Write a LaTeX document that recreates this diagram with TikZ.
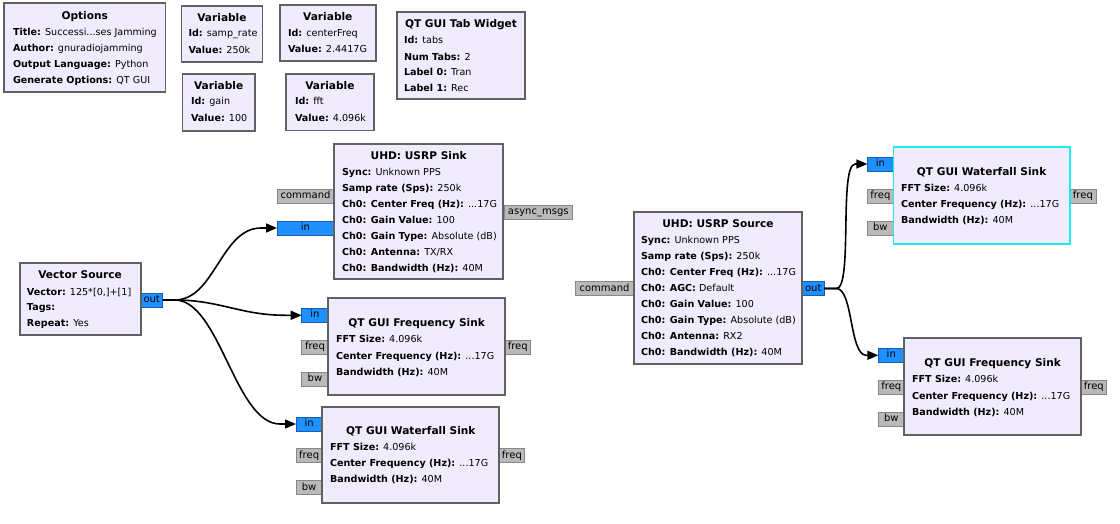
\documentclass[tikz,border=0pt]{standalone}
\usepackage{fontspec}
\setmainfont{DejaVu Sans}
\usetikzlibrary{arrows.meta,calc}
\definecolor{blockfill}{RGB}{240,236,253}
\definecolor{blockborder}{RGB}{97,97,97}
\definecolor{selcyan}{RGB}{30,235,240}
\definecolor{bportfill}{RGB}{30,144,255}
\definecolor{bportdraw}{RGB}{20,95,180}
\definecolor{gportfill}{RGB}{185,185,185}
\definecolor{gportdraw}{RGB}{135,135,135}
\tikzset{
  blockbox/.style={draw=blockborder, line width=1.8pt, fill=blockfill, inner sep=0pt, outer sep=0pt},
  selbox/.style={blockbox, draw=selcyan},
  txt/.style={inner sep=0pt, outer sep=0pt, font=\fontsize{9.6}{12}\selectfont, anchor=base west},
  ttl/.style={inner sep=0pt, outer sep=0pt, font=\fontsize{10.6}{12}\selectfont\bfseries, anchor=base},
  port/.style={line width=0.9pt, inner sep=0pt, outer sep=0pt, minimum height=14pt,
    font=\fontsize{10}{12}\selectfont, text height=7.3pt, text depth=2.2pt},
  sport/.style={port, draw=bportdraw, fill=bportfill},
  mport/.style={port, draw=gportdraw, fill=gportfill},
  conn/.style={line width=1.6pt, -{Triangle[length=11pt,width=9pt]}},
}
\newcommand\kvl[5]{\node[txt] (#1) at (#2,#3) {\textbf{#4:} #5};}
\newcommand\btl[4]{\node[ttl] (#1) at (#2,#3) {#4};}
\begin{document}
\begin{tikzpicture}[x=1pt,y=-1pt]
\useasboundingbox[fill=white] (0,0) rectangle (1120,524);

% ---------- ports ----------
\node[mport, minimum width=57pt]   (us-cmd)   at (305.5,196.3) {command};
\node[sport, minimum width=57pt]   (us-in)    at (305.5,228) {in};
\node[mport, minimum width=68.5pt] (us-async) at (538.25,212) {async\_msgs};
\node[sport, minimum width=22.2pt] (vs-out)   at (151.7,300) {out};

\node[sport, minimum width=26.6pt] (fl-in)   at (315,315.3) {in};
\node[mport, minimum width=26.6pt] (fl-freq) at (315,347) {freq};
\node[mport, minimum width=26.6pt] (fl-bw)   at (315,379) {bw};
\node[mport, minimum width=25.5pt] (fl-fo)   at (517.75,347) {freq};

\node[sport, minimum width=26.3pt] (wl-in)   at (309.15,424) {in};
\node[mport, minimum width=26.3pt] (wl-freq) at (309.15,455.7) {freq};
\node[mport, minimum width=26.3pt] (wl-bw)   at (309.15,487.5) {bw};
\node[mport, minimum width=25.2pt] (wl-fo)   at (511.9,455.7) {freq};

\node[mport, minimum width=58.5pt] (ur-cmd) at (604.55,288.5) {command};
\node[sport, minimum width=22.1pt] (ur-out) at (813.25,288.5) {out};

\node[sport, minimum width=26pt]   (wr-in)   at (880.4,164) {in};
\node[mport, minimum width=26pt]   (wr-freq) at (880.4,196.3) {freq};
\node[mport, minimum width=26pt]   (wr-bw)   at (880.4,228) {bw};
\node[mport, minimum width=26.2pt] (wr-fo)   at (1082.9,196.3) {freq};

\node[sport, minimum width=26pt]   (fr-in)   at (891.3,355.3) {in};
\node[mport, minimum width=26pt]   (fr-freq) at (891.3,387) {freq};
\node[mport, minimum width=26pt]   (fr-bw)   at (891.3,419) {bw};
\node[mport, minimum width=25.7pt] (fr-fo)   at (1093.85,387) {freq};

% ---------- blocks ----------
\node[blockbox, minimum width=161.5pt, minimum height=89pt] (opt) at (84.75,47.8) {};
\btl{opt-t}{84.75}{19.5}{Options}
\kvl{opt-1}{13}{36}{Title}{Successi...ses Jamming}
\kvl{opt-2}{13}{52}{Author}{gnuradiojamming}
\kvl{opt-3}{13}{68}{Output Language}{Python}
\kvl{opt-4}{13}{84}{Generate Options}{QT GUI}

\node[blockbox, minimum width=80.9pt, minimum height=56.6pt] (vsr) at (221.95,34) {};
\btl{vsr-t}{221.95}{21.2}{Variable}
\kvl{vsr-1}{188.5}{37}{Id}{samp\_rate}
\kvl{vsr-2}{188.5}{53.5}{Value}{250k}

\node[blockbox, minimum width=96.4pt, minimum height=56.3pt] (vcf) at (327.8,32.85) {};
\btl{vcf-t}{327.8}{20.2}{Variable}
\kvl{vcf-1}{288}{36.8}{Id}{centerFreq}
\kvl{vcf-2}{288}{52.5}{Value}{2.4417G}

\node[blockbox, minimum width=72.3pt, minimum height=56.7pt] (vg) at (218.65,102.35) {};
\btl{vg-t}{218.65}{89.5}{Variable}
\kvl{vg-1}{191}{105}{Id}{gain}
\kvl{vg-2}{191}{121.2}{Value}{100}

\node[blockbox, minimum width=88.2pt, minimum height=56.5pt] (vfft) at (329.9,102.25) {};
\btl{vfft-t}{329.9}{89.5}{Variable}
\kvl{vfft-1}{295}{105}{Id}{fft}
\kvl{vfft-2}{295}{121.2}{Value}{4.096k}

\node[blockbox, minimum width=128pt, minimum height=87pt] (tabs) at (461,55.8) {};
\btl{tabs-t}{461}{27.8}{QT GUI Tab Widget}
\kvl{tabs-1}{404}{43.8}{Id}{tabs}
\kvl{tabs-2}{404}{60.2}{Num Tabs}{2}
\kvl{tabs-3}{404}{75.8}{Label 0}{Tran}
\kvl{tabs-4}{404}{91.8}{Label 1}{Rec}

\node[blockbox, minimum width=169.3pt, minimum height=135.3pt] (usnk) at (418.65,211.65) {};
\btl{us-t}{418.65}{159.5}{UHD: USRP Sink}
\kvl{us-1}{342}{176}{Sync}{Unknown PPS}
\kvl{us-2}{342}{191.8}{Samp rate (Sps)}{250k}
\kvl{us-3}{342}{207.5}{Ch0: Center Freq (Hz)}{...17G}
\kvl{us-4}{342}{223.5}{Ch0: Gain Value}{100}
\kvl{us-5}{342}{240}{Ch0: Gain Type}{Absolute (dB)}
\kvl{us-6}{342}{255.5}{Ch0: Antenna}{TX/RX}
\kvl{us-7}{342}{271.5}{Ch0: Bandwidth (Hz)}{40M}

\node[blockbox, minimum width=121pt, minimum height=72.3pt] (vsrc) at (80.1,298.85) {};
\btl{vs-t}{80.1}{278.5}{Vector Source}
\kvl{vs-1}{27}{295}{Vector}{125*[0,]+[1]}
\kvl{vs-2}{27}{310.5}{Tags}{}
\kvl{vs-3}{27}{326.5}{Repeat}{Yes}

\node[blockbox, minimum width=176.7pt, minimum height=96.7pt] (fsl) at (416.65,346.65) {};
\btl{fl-t}{416.65}{326.8}{QT GUI Frequency Sink}
\kvl{fl-1}{336}{342.8}{FFT Size}{4.096k}
\kvl{fl-2}{336}{359}{Center Frequency (Hz)}{...17G}
\kvl{fl-3}{336}{375}{Bandwidth (Hz)}{40M}

\node[blockbox, minimum width=177pt, minimum height=96.6pt] (wfl) at (410.8,455) {};
\btl{wl-t}{410.8}{434.5}{QT GUI Waterfall Sink}
\kvl{wl-1}{330}{450.5}{FFT Size}{4.096k}
\kvl{wl-2}{330}{466.8}{Center Frequency (Hz)}{...17G}
\kvl{wl-3}{330}{482.8}{Bandwidth (Hz)}{40M}

\node[blockbox, minimum width=168.4pt, minimum height=152.3pt] (usrc) at (718,287.85) {};
\btl{ur-t}{718}{227.5}{UHD: USRP Source}
\kvl{ur-1}{641}{243.5}{Sync}{Unknown PPS}
\kvl{ur-2}{641}{259.5}{Samp rate (Sps)}{250k}
\kvl{ur-3}{641}{275.5}{Ch0: Center Freq (Hz)}{...17G}
\kvl{ur-4}{641}{291.5}{Ch0: AGC}{Default}
\kvl{ur-5}{641}{307.5}{Ch0: Gain Value}{100}
\kvl{ur-6}{641}{323.5}{Ch0: Gain Type}{Absolute (dB)}
\kvl{ur-7}{641}{339.5}{Ch0: Antenna}{RX2}
\kvl{ur-8}{641}{355.5}{Ch0: Bandwidth (Hz)}{40M}

\node[selbox, minimum width=176.4pt, minimum height=96.7pt] (wfr) at (981.6,195.65) {};
\btl{wr-t}{981.6}{175.8}{QT GUI Waterfall Sink}
\kvl{wr-1}{901}{191.8}{FFT Size}{4.096k}
\kvl{wr-2}{901}{207.5}{Center Frequency (Hz)}{...17G}
\kvl{wr-3}{901}{223.5}{Bandwidth (Hz)}{40M}

\node[blockbox, minimum width=176.7pt, minimum height=96.7pt] (fsr) at (992.65,386.65) {};
\btl{fr-t}{992.65}{366.8}{QT GUI Frequency Sink}
\kvl{fr-1}{912}{382.8}{FFT Size}{4.096k}
\kvl{fr-2}{912}{399}{Center Frequency (Hz)}{...17G}
\kvl{fr-3}{912}{415}{Bandwidth (Hz)}{40M}

% ---------- connections ----------
\draw[conn] (vs-out.east) -- ++(12,0) .. controls +(40,0) and +(-40,0) .. ($(us-in.west)+(-16,0)$) -- (us-in.west);
\draw[conn] (vs-out.east) -- ++(12,0) .. controls +(45,0) and +(-45,0) .. ($(fl-in.west)+(-16,0)$) -- (fl-in.west);
\draw[conn] (vs-out.east) -- ++(12,0) .. controls +(45,0) and +(-45,0) .. ($(wl-in.west)+(-16,0)$) -- (wl-in.west);
\draw[conn] (ur-out.east) -- ++(12,0) .. controls +(17,0) and +(-17,0) .. ($(wr-in.west)+(-12,0)$) -- (wr-in.west);
\draw[conn] (ur-out.east) -- ++(12,0) .. controls +(17,0) and +(-17,0) .. ($(fr-in.west)+(-12,0)$) -- (fr-in.west);
\end{tikzpicture}
\end{document}
